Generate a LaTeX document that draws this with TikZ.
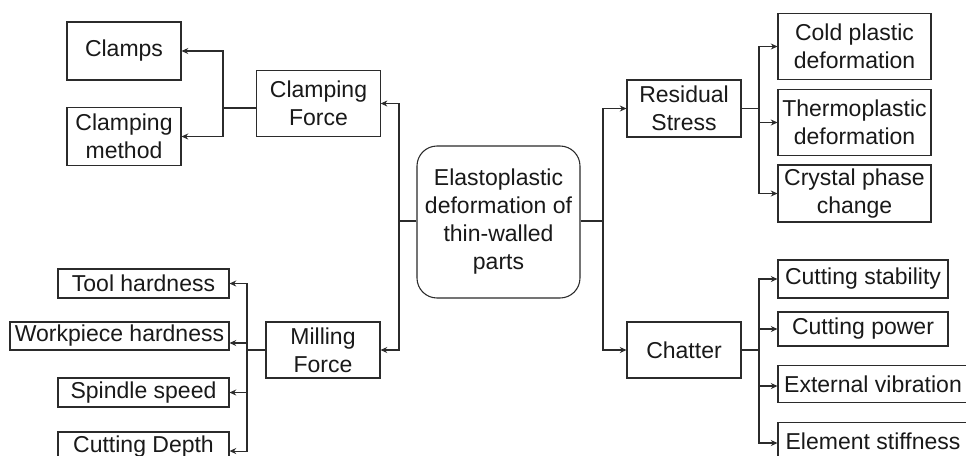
\documentclass[tikz,border=0pt]{standalone}
\usepackage{fontspec}
\setmainfont{Liberation Sans}
\usetikzlibrary{arrows.meta}
\definecolor{ln}{HTML}{2B2B2B}
\tikzset{
  box/.style={draw=ln, line width=0.8pt, inner sep=0pt, align=center,
    font=\fontsize{17.25pt}{21pt}\selectfont, text=black!90},
  conn/.style={draw=ln, line width=0.8pt},
  arr/.style={conn, -{Stealth[length=5pt,width=4.5pt]}}
}
\begin{document}
\begin{tikzpicture}[x=0.75pt,y=-0.75pt]
\useasboundingbox (0,0) rectangle (966,455);
\clip (0,0) rectangle (966,455);
\fill[white] (0,0) rectangle (966,455);
% left top
\node[box, minimum width=85.5pt, minimum height=43.5pt] (clamps) at (124,51) {Clamps};
\node[box, minimum width=85.5pt, minimum height=43pt] (method) at (124,136.5) {Clamping\\method};
\node[box, minimum width=92.5pt, minimum height=50pt] (cforce) at (318.5,103.5) {Clamping\\Force};
% left bottom
\node[box, minimum width=85.5pt, minimum height=42pt] (mforce) at (323,350) {Milling\\Force};
\node[box, minimum width=128.25pt, minimum height=21.75pt] (tool) at (143.5,283.5) {Tool hardness};
\node[box, minimum width=164.25pt, minimum height=21pt] (work) at (119.5,336) {Workpiece hardness};
\node[box, minimum width=128.25pt, minimum height=21.75pt] (spindle) at (143.5,392.5) {Spindle speed};
\node[box, minimum width=128.25pt, minimum height=21.75pt] (depth) at (143.5,446.5) {Cutting Depth};
% center
\node[box, rounded corners=15pt, minimum width=122.25pt, minimum height=114pt] (center) at (498.5,222) {Elastoplastic\\deformation of\\thin-walled\\parts};
% right top
\node[box, minimum width=85.5pt, minimum height=42.75pt] (resid) at (684,108.5) {Residual\\Stress};
\node[box, minimum width=114.75pt, minimum height=50pt] (cold) at (854.5,46.5) {Cold plastic\\deformation};
\node[box, minimum width=114.75pt, minimum height=50pt] (thermo) at (854.5,122.5) {Thermoplastic\\deformation};
\node[box, minimum width=114.75pt, minimum height=42.75pt] (crystal) at (854.5,193.5) {Crystal phase\\change};
% right bottom
\node[box, minimum width=85.5pt, minimum height=42pt] (chatter) at (684,350) {Chatter};
\node[box, minimum width=127.5pt, minimum height=28.5pt] (stab) at (863,279) {Cutting stability};
\node[box, minimum width=127.5pt, minimum height=25.5pt] (power) at (863,329) {Cutting power};
\node[box, minimum width=142.5pt, minimum height=27.75pt] (ext) at (873,384) {External vibration};
\node[box, minimum width=142.5pt, minimum height=27.75pt] (elem) at (873,441) {Element stiffness};
% branch points
\coordinate (bL1) at (223,108);
\coordinate (bL2) at (247,350);
\coordinate (bC1) at (399,221);
\coordinate (bC2) at (603,221);
\coordinate (bR1) at (759,108.5);
\coordinate (bR2) at (759,350);
% connectors
\draw[conn] (center.west |- bC1) -- (bC1);
\draw[arr] (bC1) |- (cforce.east);
\draw[arr] (bC1) |- (mforce.east);
\draw[conn] (center.east |- bC2) -- (bC2);
\draw[arr] (bC2) |- (resid.west);
\draw[arr] (bC2) |- (chatter.west);
\draw[conn] (cforce.west |- bL1) -- (bL1);
\draw[arr] (bL1) |- (clamps.east);
\draw[arr] (bL1) |- (method.east);
\draw[conn] (mforce.west |- bL2) -- (bL2);
\draw[arr] (bL2) |- (tool.east);
\draw[arr] (bL2) |- ([yshift=-5.25pt]work.east);
\draw[arr] (bL2) |- (spindle.east);
\draw[arr] (bL2) |- ([yshift=-3.4pt]depth.east);
\draw[conn] (resid.east |- bR1) -- (bR1);
\draw[arr] (bR1) |- (cold.west);
\draw[arr] (bR1) |- (thermo.west);
\draw[arr] (bR1) |- (crystal.west);
\draw[conn] (chatter.east |- bR2) -- (bR2);
\draw[arr] (bR2) |- (stab.west);
\draw[arr] (bR2) |- (power.west);
\draw[arr] (bR2) |- ([yshift=-1.5pt]ext.west);
\draw[arr] (bR2) |- ([yshift=-1.5pt]elem.west);
\end{tikzpicture}
\end{document}
